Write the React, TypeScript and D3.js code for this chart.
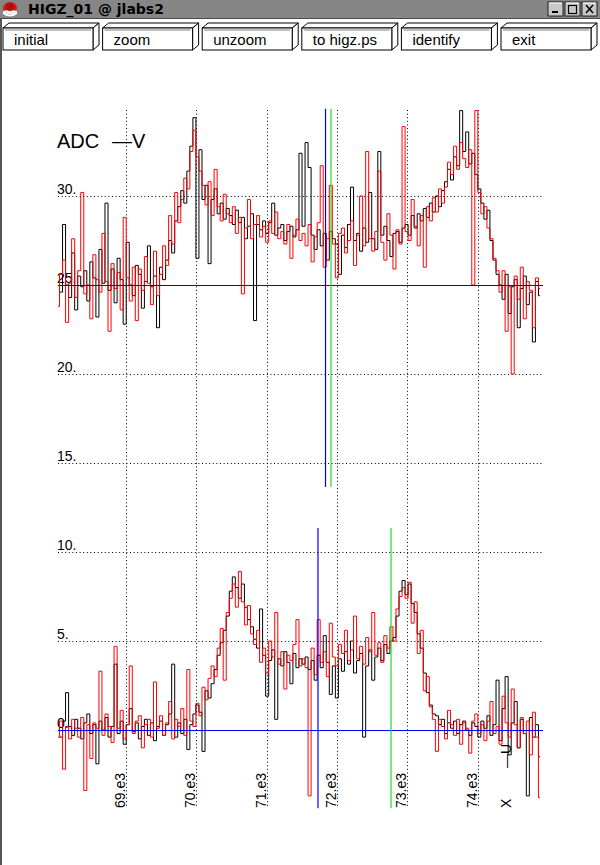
import React from "react";
import * as d3 from "d3";

// bins along the x axis (HIGZ histogram, 160 channels)
const binStart = 68030;
const binEnd = 74930;
const binCount = 160;

const xTicks = [69000, 70000, 71000, 72000, 73000, 74000];
const xTickLabels = ["69.e3", "70.e3", "71.e3", "72.e3", "73.e3", "74.e3"];
const yGridValues = [30, 20, 15, 10, 5];
const yLabelValues = [30, 25, 20, 15, 10, 5, 0];
const yLabels = ["30.", "25.", "20.", "15.", "10.", "5.", "0."];
const baseLines = [25, 0];

const buttons = ["initial", "zoom", "unzoom", "to higz.ps", "identify", "exit"];

// ADC -V, upper pair of traces
const topBlack = [
  25.2, 24.6, 28.4, 25.0, 24.3, 26.8, 23.6, 25.5, 24.9, 25.8,
  24.1, 26.3, 25.4, 23.2, 27.0, 25.1, 29.6, 24.7, 25.9, 24.0,
  26.5, 25.3, 22.8, 27.4, 25.0, 24.4, 26.1, 25.6, 23.7, 25.2,
  27.2, 24.9, 25.5, 22.6, 26.0, 25.3,
  26.4, 27.5, 26.8, 28.6, 29.4,
  30.3, 29.6, 31.4, 32.8, 34.4, 26.5, 32.6, 29.8,
  30.6, 26.2, 29.8, 30.4, 29.0, 29.6, 28.7, 29.3,
  28.9, 28.4, 29.2, 28.5, 28.8, 27.6, 28.3, 29.0, 23.0, 28.4,
  28.1, 28.6, 27.9, 28.5, 29.6, 27.8, 28.2, 28.4, 27.5, 28.0,
  28.3, 27.7, 28.1, 32.4,
  28.3, 33.0, 31.6, 27.8, 27.0, 28.1, 27.2, 27.9, 26.4, 28.0,
  27.6, 27.3, 25.6, 27.8, 27.1, 28.4, 30.5, 27.5, 27.9, 26.9,
  28.2, 27.4, 30.2, 27.6, 27.0, 32.5, 27.8, 28.3, 27.5, 26.6,
  27.9, 28.0, 27.4, 28.2,
  28.4, 27.8, 28.9, 28.2, 29.0, 28.6, 29.3, 28.8, 29.6, 29.1,
  30.0, 29.4, 30.3,
  30.8, 31.5, 30.9, 32.2, 31.7, 34.8, 32.5, 33.6, 31.8, 32.4,
  31.2, 30.4, 29.6, 28.7, 29.2, 27.5, 26.4, 25.6,
  25.0, 24.2, 25.6, 23.4, 24.9, 25.3, 22.6, 24.8, 25.5, 23.9,
  24.6, 21.8, 25.2, 24.4,
];

const topRed = [
  23.8, 25.6, 26.4, 22.9, 25.1, 27.6, 24.3, 25.8, 30.2, 24.5,
  25.0, 23.1, 26.7, 25.3, 24.6, 27.9, 25.2, 22.4, 26.2, 24.8,
  25.7, 23.6, 28.8, 25.4, 24.1, 26.0, 23.0, 25.9, 24.7, 26.6,
  25.1, 23.9, 26.9, 24.4, 25.6, 27.2,
  26.1, 28.9, 27.3, 30.2, 28.5,
  29.8, 31.0, 30.4, 32.5, 33.7, 32.2, 31.4, 30.6,
  29.5, 30.8, 28.9, 31.5, 29.4, 28.6, 30.1, 29.0,
  28.5, 29.4, 27.9, 28.8, 24.5, 28.2, 29.8, 27.6, 28.4, 28.9,
  27.7, 28.3, 27.4, 28.6, 27.9, 29.1, 27.6, 28.0, 27.3, 28.4,
  26.5, 27.8, 28.7, 27.5,
  27.9, 27.2, 28.4, 26.3, 27.7, 28.5, 31.7, 26.0, 27.6, 30.6,
  27.3, 25.4, 27.9, 28.2, 26.8, 27.5, 28.6, 26.1, 27.8, 30.0,
  27.2, 32.5, 27.6, 26.9, 28.0, 31.4, 27.4, 26.4, 29.0, 27.8,
  25.9, 28.1, 27.3, 33.9,
  28.0, 27.5, 29.8, 28.3, 27.2, 28.9, 26.0, 29.4, 28.6, 29.9,
  29.1, 30.4, 29.6,
  30.5, 31.9, 31.2, 32.8, 31.5, 33.0, 32.1, 31.6, 32.6, 25.0,
  34.8, 30.2, 29.0, 29.4, 28.2, 27.6, 26.5, 25.8,
  24.6, 25.8, 22.4, 24.9, 20.0, 25.5, 24.2, 26.0, 23.1, 25.2,
  24.7, 22.6, 25.4, 24.8,
];

// -U, lower pair of traces
const bottomBlack = [
  0.3, -0.4, 0.5, 2.1, 0.2, -0.3, 0.6, 0.1, -0.5, 0.4,
  0.9, -0.2, 0.3, -1.9, 0.5, 0.0, 0.7, -0.4, 0.2, 3.7,
  -0.2, 0.5, -0.8, 0.3, 1.2, -0.1, 0.4, -0.5, 0.2, 0.6,
  -0.3, 0.4, -0.6, 0.2, 0.5, -0.3, 0.3, 0.9, 3.7, -0.4,
  0.4, -0.2, 0.6, -1.1, 0.3,
  0.9, 1.4, 1.0, -1.2, 2.2, 1.8, 2.6,
  3.4, 4.2, 4.9, 5.6, 6.4, 7.8, 8.6, 8.0, 7.4,
  8.2, 6.9, 6.2, 5.8, 5.1, 4.6,
  6.8, 4.2, 1.9, 3.9, 4.5, 0.6, 4.0, 3.6, 4.4, 3.8,
  2.6, 4.3, 3.5, 4.0,
  3.7, 4.1, 3.4, 3.9, 2.8, 4.2, 3.5, 5.3, 3.8, 2.0,
  3.6, 1.8, 4.0, 3.3, 4.4, 3.7, 5.0, 3.2, 3.9, 4.3,
  -0.4, 3.6, 4.5, 2.8, 4.1, 4.6, 3.9, 4.8, 4.3, 5.0,
  5.2, 6.4, 7.8, 8.4, 7.6, 8.2, 7.1, 6.6,
  5.4, 4.6, 3.2, 2.1, 1.4, 0.9,
  0.8, 0.3, 0.6, -0.2, 0.4, 0.1, 0.5, -0.2, 0.3, 0.5,
  0.0, -0.3, 0.4, 0.2, -0.4, 0.5, 0.1, 0.8, -0.3, 0.3,
  2.8, -0.6, 1.2, 3.0, -1.4, 0.4, 1.6, -1.0, 0.6, -0.2,
  -3.7, 0.7, -0.4, 0.3, -1.5,
];

const bottomRed = [
  -0.4, 0.5, -2.2, 0.2, -0.5, 0.6, 0.1, -0.4, 0.7, -3.4,
  0.3, -1.6, 0.4, 0.1, 3.3, -0.3, 0.9, 0.2, -0.7, 4.7,
  0.1, 1.1, -0.5, 0.3, 3.6, -0.2, 0.5, 0.8, -1.0, 0.3,
  0.6, -0.4, 2.7, 0.1, 0.8, -0.3,
  0.4, 1.6, -0.5, 0.6, 0.2, 1.2, -0.3, 3.4, 0.5,
  0.2, 1.5, 0.8, 2.4, 1.7, 2.9, 3.6,
  3.0, 4.6, 5.7, 2.8, 6.6, 7.4, 8.2, 6.9, 8.9,
  7.2, 5.9, 7.0, 5.4, 4.8, 5.6,
  3.8, 4.6, 3.2, 5.0, 4.1, 6.6, 3.7, 4.4, 2.3, 4.2,
  3.9, 4.8, 6.2, 3.6,
  4.0, 3.5, -3.7, 4.6, 3.1, 6.2, 3.8, 4.4, 3.0, 6.0,
  4.1, 3.6, 4.8, 4.3, 5.6, 3.9, 4.5, 6.4, 4.0, 4.7,
  3.7, 5.2, 4.4, 6.6, 4.2, 4.9, 3.8, 5.3, 4.6, 5.8,
  5.0, 6.8, 7.5, 8.0, 7.4, 8.3, 6.0, 7.2,
  4.3, 5.6, 2.2, 3.0, 1.3, 0.6,
  -1.2, 0.6, 0.2, -0.5, 1.1, 0.3, -0.3, 0.6, -0.8, 0.4,
  0.1, -1.3, 0.5, 0.9, -0.2, 0.3, -0.6, 0.5, 1.6, -0.2,
  0.2, -0.8, 1.9, 0.4, -0.4, 2.3, 0.3, -1.0, 0.7, -0.2,
  0.5, -1.4, 1.0, -0.4, -3.8,
];

// cursor lines: [x value, y from, y to, colour]
const cursors: [number, number, number, string][] = [
  [71836, 13.65, 34.9, "#0000ff"],
  [71914, 13.65, 34.9, "#22dd22"],
  [71729, -4.4, 11.35, "#0000ff"],
  [72768, -4.4, 11.35, "#22dd22"],
];

const mono = "'Liberation Sans', Arial, Helvetica, sans-serif";

function Button({ x0, label }: { x0: number; label: string }) {
  const w = 90, top = 28, h = 22, dx = 6, dy = 5;
  return (
    <g stroke="#000" strokeWidth={1} fill="#fff">
      <polygon points={`${x0},${top} ${x0 + dx},${top - dy} ${x0 + w + dx},${top - dy} ${x0 + w},${top}`} />
      <polygon points={`${x0 + w},${top} ${x0 + w + dx},${top - dy} ${x0 + w + dx},${top + h - dy} ${x0 + w},${top + h}`} />
      <rect x={x0} y={top} width={w} height={h} />
      <line x1={x0 + 2} y1={top + 2} x2={x0 + w - 2} y2={top + 2} strokeWidth={0.5} />
      <text x={x0 + 11} y={top + 17} stroke="none" fill="#000" fontSize={15} fontFamily={mono}>
        {label}
      </text>
    </g>
  );
}

export default function App() {
  const x = d3.scaleLinear().domain([binStart, binEnd]).range([58, 543]);
  const y = d3.scaleLinear().domain([0, 30]).range([730, 196]);
  const binWidth = (binEnd - binStart) / binCount;

  const line = d3
    .line<number>()
    .x((_, i) => x(binStart + i * binWidth))
    .y((d) => y(d))
    .curve(d3.curveStep);

  return (
    <svg
      width={600}
      height={865}
      style={{ position: "absolute", left: 0, top: 0, background: "#fff" }}
      fontFamily={mono}
    >
      <rect x={0} y={0} width={600} height={865} fill="#fff" />

      {/* window title bar */}
      <rect x={0} y={0} width={600} height={18} fill="#868686" />
      <line x1={0} y1={18.5} x2={600} y2={18.5} stroke="#4a4a4a" />
      <line x1={1} y1={18} x2={1} y2={865} stroke="#555" strokeWidth={2} />
      <g>
        <ellipse cx={10} cy={8} rx={7} ry={6} fill="#d81818" />
        <path d="M3,11 Q10,18 17,11 L17,14 Q10,19 3,14 Z" fill="#fff" />
        <ellipse cx={10} cy={12} rx={7} ry={2} fill="#eee" />
        <ellipse cx={10} cy={7} rx={4} ry={4} fill="#b01010" />
      </g>
      <text x={28} y={14} fontSize={14} fontWeight="bold" fill="#000" fontFamily="'DejaVu Sans', Arial, sans-serif">
        HIGZ_01 @ jlabs2
      </text>
      {[548, 565, 582].map((bx, i) => (
        <g key={bx}>
          <rect x={bx} y={2} width={15} height={14} fill="#c8c8c8" stroke="#000" strokeWidth={0.8} />
          <line x1={bx + 1} y1={3} x2={bx + 14} y2={3} stroke="#fff" />
          {i === 0 && <rect x={bx + 4} y={11} width={6} height={2} fill="#000" />}
          {i === 1 && <rect x={bx + 3.5} y={5.5} width={8} height={8} fill="none" stroke="#000" strokeWidth={1.2} />}
          {i === 2 && (
            <path d={`M${bx + 4},5 L${bx + 11},13 M${bx + 11},5 L${bx + 4},13`} stroke="#000" strokeWidth={1.5} />
          )}
        </g>
      ))}

      {/* command buttons */}
      {buttons.map((b, i) => (
        <Button key={b} x0={3 + i * 99.6} label={b} />
      ))}

      {/* grid */}
      <g stroke="#000" strokeWidth={1} strokeDasharray="1 2.6">
        {xTicks.map((t) => (
          <line key={t} x1={Math.round(x(t)) + 0.5} y1={110} x2={Math.round(x(t)) + 0.5} y2={808} />
        ))}
        {yGridValues.map((v) => (
          <line key={v} x1={58} y1={Math.round(y(v)) + 0.5} x2={543} y2={Math.round(y(v)) + 0.5} />
        ))}
      </g>

      {/* y labels */}
      {yLabelValues.map((v, i) => (
        <text key={v} x={57} y={y(v) - 2} fontSize={14} fill="#000">
          {yLabels[i]}
        </text>
      ))}

      <text x={57} y={148} fontSize={20} fill="#000" fontWeight={300}>
        ADC{"  "}
      </text>
      <text x={112} y={148} fontSize={20} fill="#000">
        —V
      </text>

      {/* x tick labels, rotated */}
      {xTicks.map((t, i) => (
        <text key={t} transform={`translate(${x(t) - 1},808) rotate(-90)`} fontSize={14} fill="#000">
          {xTickLabels[i]}
        </text>
      ))}
      <text transform="translate(511,768) rotate(-90)" fontSize={14} fill="#000">
        —U
      </text>
      <text transform="translate(511,808) rotate(-90)" fontSize={14} fill="#000">
        X
      </text>

      {/* traces */}
      <g fill="none" strokeWidth={1}>
        <path d={line(topBlack) ?? ""} stroke="#000" />
        <path d={line(topRed) ?? ""} stroke="#ff0000" />
        <path d={line(bottomBlack) ?? ""} stroke="#000" />
        <path d={line(bottomRed) ?? ""} stroke="#ff0000" />
      </g>

      {/* base lines */}
      {baseLines.map((v) => (
        <line key={v} x1={58} y1={Math.round(y(v)) + 0.5} x2={543} y2={Math.round(y(v)) + 0.5} stroke="#0000ff" strokeWidth={1.2} />
      ))}

      {/* cursors */}
      {cursors.map(([cx, lo, hi, c], i) => (
        <line key={i} x1={x(cx)} y1={y(lo)} x2={x(cx)} y2={y(hi)} stroke={c} strokeWidth={1.2} />
      ))}
    </svg>
  );
}
